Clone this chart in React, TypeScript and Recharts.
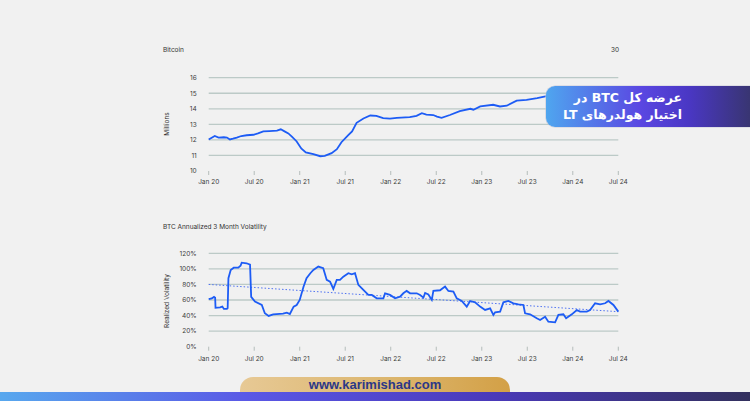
import React from 'react';
import { LineChart, Line, XAxis, YAxis, CartesianGrid } from 'recharts';

const monthTicks = [0, 6, 12, 18, 24, 30, 36, 42, 48, 54];
const monthTickLabels = ['Jan 20', 'Jul 20', 'Jan 21', 'Jul 21', 'Jan 22', 'Jul 22', 'Jan 23', 'Jul 23', 'Jan 24', 'Jul 24'];

const supplyTicks = [10, 11, 12, 13, 14, 15, 16];
const supplyGrid = [11, 12, 13, 14, 15, 16];
const supplyMonths = [0, 0.8, 1.3, 2.0, 2.4, 2.8, 3.2, 3.7, 4.3, 5.0, 5.9, 6.5, 7.2, 8.0, 9.0, 9.5, 10.0, 10.5, 11.0, 11.6, 12.2, 12.8, 13.8, 14.7, 15.3, 16.2, 16.9, 17.5, 18.4, 18.9, 19.5, 20.4, 21.3, 22.1, 23.0, 23.9, 24.8, 26.5, 27.4, 28.1, 28.7, 29.6, 30.1, 30.7, 31.8, 33.1, 34.5, 34.9, 35.8, 37.5, 38.4, 39.3, 40.6, 41.9, 43.3, 44.4, 46, 48, 51, 54];
const supplyValues = [12.03, 12.25, 12.15, 12.17, 12.15, 12.03, 12.08, 12.15, 12.25, 12.3, 12.33, 12.42, 12.55, 12.57, 12.6, 12.68, 12.55, 12.42, 12.2, 11.9, 11.45, 11.2, 11.08, 10.95, 10.97, 11.15, 11.4, 11.85, 12.3, 12.55, 13.1, 13.38, 13.57, 13.55, 13.4, 13.37, 13.42, 13.47, 13.55, 13.72, 13.63, 13.6, 13.5, 13.42, 13.6, 13.85, 14.0, 13.94, 14.15, 14.26, 14.15, 14.2, 14.52, 14.58, 14.69, 14.8, 14.9, 15.0, 15.05, 15.1];

const volTicks = [0, 20, 40, 60, 80, 100, 120];
const volGrid = [20, 40, 60, 80, 100, 120];
const volMonths = [0, 0.4, 0.7, 0.85, 0.9, 1.5, 1.8, 2.0, 2.4, 2.5, 2.6, 2.9, 3.3, 3.9, 4.2, 4.35, 5.0, 5.45, 5.6, 6.1, 7.0, 7.4, 7.9, 8.5, 9.8, 10.3, 10.7, 11.2, 11.6, 12.0, 12.5, 12.9, 13.4, 13.8, 14.45, 15.1, 15.56, 16.0, 16.43, 16.88, 17.31, 17.75, 18.41, 18.86, 19.29, 19.73, 20.39, 21.05, 21.5, 22.15, 23.03, 23.25, 23.91, 24.57, 25.23, 25.66, 26.1, 26.55, 27.43, 27.87, 28.31, 28.53, 28.96, 29.41, 29.62, 30.5, 31.16, 31.6, 32.26, 32.7, 33.36, 34.02, 34.46, 35.12, 35.78, 36.44, 37.1, 37.53, 37.76, 38.42, 38.85, 39.51, 40.17, 40.83, 41.49, 41.71, 42.37, 43.25, 43.69, 44.35, 44.78, 45.67, 46.1, 46.76, 47.12, 47.87, 48.53, 48.96, 49.85, 50.28, 50.94, 51.6, 52.26, 52.7, 53.36, 54.0];
const volValues = [61, 62, 64, 63, 50, 50.5, 51.5, 48.5, 48.5, 49.5, 88, 98.5, 101.5, 101.5, 104, 108, 107.2, 105.5, 64, 58, 53.6, 43, 39.5, 41.6, 42.5, 43.8, 42, 51.5, 53.6, 60, 77, 88, 94.4, 98.7, 102.9, 100.8, 85.8, 83.6, 74.2, 85.8, 85.8, 90, 94.4, 93, 94.4, 79.4, 72.9, 66.5, 66.5, 62.2, 62.2, 68.6, 66.5, 62.2, 64.3, 68.6, 71.7, 68.6, 68.6, 66.5, 63.1, 69, 67, 60.1, 71.7, 72.5, 77.2, 71.6, 70.8, 62.2, 58.8, 51.5, 58.8, 57.1, 51.5, 47.2, 49.3, 40.8, 44.2, 45.1, 57.1, 58.8, 55.8, 54.5, 53.6, 42.9, 41.6, 36.5, 34.3, 38.6, 32.2, 31.3, 40.8, 41.6, 36.5, 41.6, 47.2, 45.1, 45.1, 47.2, 55.8, 54.5, 55.8, 58.8, 53.6, 45.1];

const trendMonths = [0, 54];
const trendValues = [80, 45];

const supplyData = supplyMonths.map((t, i) => ({ t, v: supplyValues[i] }));
const volData = volMonths.map((t, i) => ({ t, v: volValues[i] }));
const trendData = trendMonths.map((t, i) => ({ t, v: trendValues[i] }));

const FONT = 'Inter, "Liberation Sans", sans-serif';
const TICK = { fontSize: 6.5, fill: '#3c3c3c', fontFamily: FONT };
const GRID = '#bccac7';
const BLUE = '#1d5cf5';
const fmtMonth = (v: number) => monthTickLabels[monthTicks.indexOf(v)] ?? '';

const smallText: React.CSSProperties = {
  position: 'absolute',
  fontFamily: FONT,
  fontSize: 6.5,
  color: '#333',
  whiteSpace: 'nowrap',
  lineHeight: '8px',
};

export default function App() {
  return (
    <div style={{ position: 'absolute', left: 0, top: 0, width: 750, height: 401, background: '#f1f1f1', overflow: 'hidden' }}>
      {/* Top chart */}
      <div style={{ position: 'absolute', left: 0, top: 0 }}>
        <LineChart width={750} height={200} data={supplyData} margin={{ top: 77.7, right: 131.7, bottom: 0, left: 178.7 }}>
          <CartesianGrid vertical={false} horizontalValues={supplyGrid} stroke={GRID} strokeWidth={1.3} />
          <XAxis type="number" dataKey="t" domain={[0, 54]} ticks={monthTicks} tickFormatter={fmtMonth} axisLine={false} tickLine={{ stroke: '#b5bdbb' }} tickSize={4} tickMargin={4} height={29} tick={TICK} interval={0} />
          <YAxis type="number" domain={[10, 16]} ticks={supplyTicks} axisLine={false} tickLine={false} tickSize={0} tickMargin={12} width={30} tick={TICK} interval={0} />
          <Line dataKey="v" stroke={BLUE} strokeWidth={1.8} dot={false} isAnimationActive={false} type="linear" />
        </LineChart>
      </div>
      {/* Bottom chart */}
      <div style={{ position: 'absolute', left: 0, top: 200 }}>
        <LineChart width={750} height={180} data={volData} margin={{ top: 53.3, right: 131.7, bottom: 0, left: 178.7 }}>
          <CartesianGrid vertical={false} horizontalValues={volGrid} stroke={GRID} strokeWidth={1.3} />
          <XAxis type="number" dataKey="t" domain={[0, 54]} ticks={monthTicks} tickFormatter={fmtMonth} axisLine={false} tickLine={{ stroke: '#b5bdbb' }} tickSize={4} tickMargin={5.5} height={33.3} tick={TICK} interval={0} />
          <YAxis type="number" domain={[0, 120]} ticks={volTicks} tickFormatter={(v: number) => `${v}%`} axisLine={false} tickLine={false} tickSize={0} tickMargin={12} width={30} tick={TICK} interval={0} />
          <Line data={trendData} dataKey="v" stroke="#4f72f2" strokeWidth={1} strokeDasharray="1.5 2" dot={false} isAnimationActive={false} type="linear" />
          <Line dataKey="v" stroke={BLUE} strokeWidth={1.8} dot={false} isAnimationActive={false} type="linear" />
        </LineChart>
      </div>

      {/* Titles */}
      <div style={{ ...smallText, left: 163, top: 46 }}>Bitcoin</div>
      <div style={{ ...smallText, left: 611, top: 46 }}>30</div>
      <div style={{ ...smallText, left: 163, top: 223 }}>BTC Annualized 3 Month Volatility</div>
      <div style={{ ...smallText, left: 167, top: 124, transform: 'translate(-50%, -50%) rotate(-90deg)' }}>Millions</div>
      <div style={{ ...smallText, left: 167, top: 301, transform: 'translate(-50%, -50%) rotate(-90deg)' }}>Realized Volatility</div>

      {/* Persian callout */}
      <div style={{ position: 'absolute', left: 546, top: 86, width: 210, height: 41, borderRadius: '9px 0 0 9px', background: 'linear-gradient(90deg, #4fa6ef 0%, #5a47e2 45%, #4a37c4 68%, #37356a 100%)', boxShadow: '0 0 0 0.6px rgba(200,200,215,0.9)' }} />
      <div dir="rtl" style={{ position: 'absolute', right: 68, top: 89, width: 140, textAlign: 'right', color: '#fff', fontFamily: '"DejaVu Sans", sans-serif', fontWeight: 'bold', fontSize: 12.5, lineHeight: '17px', whiteSpace: 'nowrap' }}>
        <div>عرضه کل BTC در</div>
        <div>اختیار هولدرهای LT</div>
      </div>

      {/* Footer */}
      <div style={{ position: 'absolute', left: 240, top: 377, width: 270, height: 30, borderRadius: 13, background: 'linear-gradient(90deg, #e7c995 0%, #dcb66e 55%, #d3a046 100%)' }} />
      <div style={{ position: 'absolute', left: 240, top: 377, width: 270, height: 16, textAlign: 'center', fontFamily: '"Liberation Sans", Arial, sans-serif', fontWeight: 'bold', fontSize: 13, lineHeight: '16px', color: '#2b3787' }}>www.karimishad.com</div>
      <div style={{ position: 'absolute', left: 0, top: 392, width: 750, height: 9, background: 'linear-gradient(90deg, #58a8ee 0%, #5a58e6 33%, #4a39b9 66%, #33305e 100%)' }} />
    </div>
  );
}
